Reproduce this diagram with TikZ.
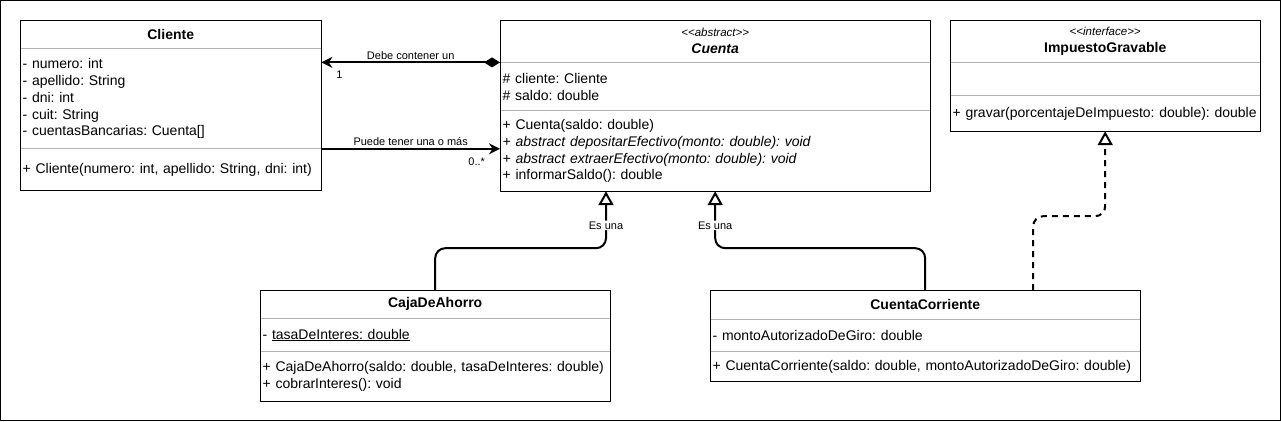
\documentclass[tikz,border=0pt]{standalone}
\usepackage{fontspec}
\setmainfont{Liberation Sans}
\usetikzlibrary{arrows.meta, positioning, calc}
\newcommand{\umlfont}{\fontsize{14}{16.8}\selectfont\frenchspacing}
\newcommand{\stereo}[1]{{\fontsize{11.5}{13}\selectfont\itshape <\kern0pt<#1>\kern0pt>}}
\tikzset{
    classhead/.style={rectangle, text width=#1, inner xsep=2.5pt, inner ysep=0pt, align=center, font=\umlfont},
    classpart/.style={rectangle, text width=#1, inner xsep=2.5pt, inner ysep=0pt, align=left, font=\umlfont},
    classbox/.style={draw=black, line width=1pt},
    sepline/.style={draw=black!30, line width=1pt},
    assoc/.style={line width=2pt, -{Stealth[length=11pt, width=11pt]}},
    compose/.style={line width=2pt, {Diamond[length=16pt, width=10pt]}-{Stealth[length=11pt, width=11pt]}},
    inherit/.style={line width=2pt, rounded corners=10pt, -{Triangle[open, length=14pt, width=15pt, fill=white]}},
    realize/.style={inherit, dash pattern=on 6pt off 5pt},
    edgelabel/.style={font=\fontsize{11}{13}\selectfont, inner sep=2pt},
    mult/.style={font=\fontsize{11}{13}\selectfont, inner sep=0pt},
    esuna/.style={edgelabel, fill=white, inner sep=1pt}
}

\begin{document}
\begin{tikzpicture}[x=1pt, y=-1pt]
    \useasboundingbox (0,0) rectangle (1281,421);
    \draw [fill=white, line width=1pt] (0.5,0.5) rectangle (1280.5,420.5);

    % Cliente
    \node (clihead) [classhead=296pt, minimum height=28pt, anchor=north west] at (20,20) {\textbf{Cliente}};
    \node (cliattr) [classpart=296pt, minimum height=100pt, below=0pt of clihead] {- numero: int\\- apellido: String\\- dni: int\\- cuit: String\\- cuentasBancarias: Cuenta[]};
    \node (climeth) [classpart=296pt, minimum height=41pt, below=0pt of cliattr] {+ Cliente(numero: int, apellido: String, dni: int)};

    % Cuenta
    \node (cuehead) [classhead=425pt, minimum height=42pt, anchor=north west] at (500,20) {\stereo{abstract}\\\textbf{\textit{Cuenta}}};
    \node (cueattr) [classpart=425pt, minimum height=48pt, below=0pt of cuehead] {\# cliente: Cliente\\\# saldo: double};
    \node (cuemeth) [classpart=425pt, minimum height=80pt, below=0pt of cueattr] {+ Cuenta(saldo: double)\\\textit{+ abstract depositarEfectivo(monto: double): void}\\\textit{+ abstract extraerEfectivo(monto: double): void}\\+ informarSaldo(): double};

    % ImpuestoGravable
    \node (imphead) [classhead=305pt, minimum height=42pt, anchor=north west] at (950,20) {\stereo{interface}\\\textbf{ImpuestoGravable}};
    \node (impattr) [classpart=305pt, minimum height=33pt, below=0pt of imphead] {};
    \node (impmeth) [classpart=305pt, minimum height=35pt, below=0pt of impattr] {+ gravar(porcentajeDeImpuesto: double): double};

    % CajaDeAhorro
    \node (cajahead) [classhead=345pt, minimum height=28pt, anchor=north west] at (260,290) {\textbf{CajaDeAhorro}};
    \node (cajaattr) [classpart=345pt, minimum height=33pt, below=0pt of cajahead] {- \underline{tasaDeInteres: double}};
    \node (cajameth) [classpart=345pt, minimum height=49pt, below=0pt of cajaattr] {+ CajaDeAhorro(saldo: double, tasaDeInteres: double)\\+ cobrarInteres(): void};

    % CuentaCorriente
    \node (corrhead) [classhead=425pt, minimum height=29pt, anchor=north west] at (710,290) {\textbf{CuentaCorriente}};
    \node (corrattr) [classpart=425pt, minimum height=32pt, below=0pt of corrhead] {- montoAutorizadoDeGiro: double};
    \node (corrmeth) [classpart=425pt, minimum height=29pt, below=0pt of corrattr] {+ CuentaCorriente(saldo: double, montoAutorizadoDeGiro: double)};

    % separadores y marcos
    \draw [sepline] (cliattr.north west) -- (cliattr.north east);
    \draw [sepline] (climeth.north west) -- (climeth.north east);
    \draw [classbox] (clihead.north west) rectangle (climeth.south east);
    \draw [sepline] (cueattr.north west) -- (cueattr.north east);
    \draw [sepline] (cuemeth.north west) -- (cuemeth.north east);
    \draw [classbox] (cuehead.north west) rectangle (cuemeth.south east);
    \draw [sepline] (impattr.north west) -- (impattr.north east);
    \draw [sepline] (impmeth.north west) -- (impmeth.north east);
    \draw [classbox] (imphead.north west) rectangle (impmeth.south east);
    \draw [sepline] (cajaattr.north west) -- (cajaattr.north east);
    \draw [sepline] (cajameth.north west) -- (cajameth.north east);
    \draw [classbox] (cajahead.north west) rectangle (cajameth.south east);
    \draw [sepline] (corrattr.north west) -- (corrattr.north east);
    \draw [sepline] (corrmeth.north west) -- (corrmeth.north east);
    \draw [classbox] (corrhead.north west) rectangle (corrmeth.south east);

    % relaciones
    \coordinate (cuecaja) at ([xshift=106pt]cuemeth.south west);
    \coordinate (corrimp) at ([xshift=108pt]corrhead.north);
    \draw [compose] (cuehead.south west) -- node[edgelabel, above] {Debe contener un} node[mult, at end, anchor=north west, xshift=14pt, yshift=-8pt] {1} (cuehead.south west -| cliattr.east);
    \draw [assoc] (climeth.north east) -- node[edgelabel, above] {Puede tener una o más} node[mult, at end, anchor=north east, xshift=-14pt, yshift=-8pt] {0..*} (climeth.north east -| cueattr.west);
    \draw [inherit] (cajahead.north) |- ($(cuecaja)+(0,57)$) -- node[esuna, pos=0.4] {Es una} (cuecaja);
    \draw [inherit] (corrhead.north) |- ($(cuemeth.south)+(0,57)$) -- node[esuna, pos=0.4] {Es una} (cuemeth.south);
    \draw [realize] (corrimp) |- ($(impmeth.south)+(0,85)$) -- (impmeth.south);
\end{tikzpicture}
\end{document}
